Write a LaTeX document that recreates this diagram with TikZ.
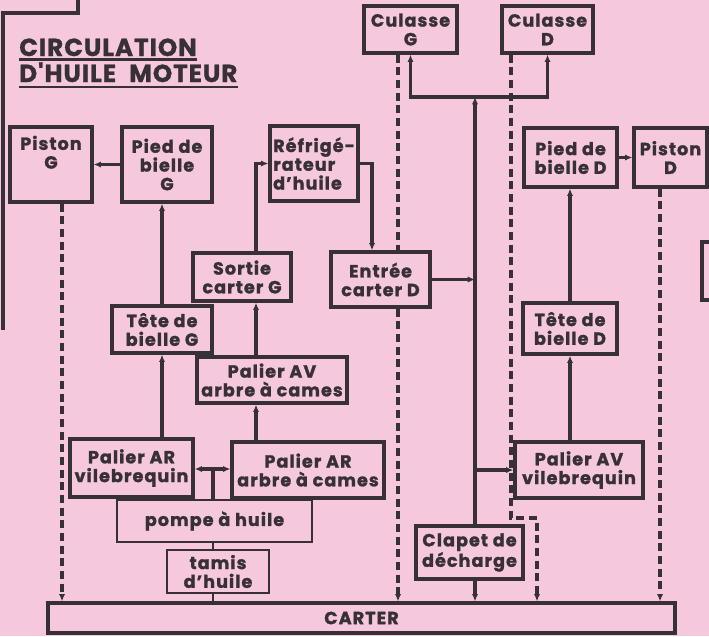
\documentclass[tikz,border=0pt]{standalone}
\usepackage{fontspec}
\setmainfont{Poppins}[LetterSpace=6, BoldFeatures={FakeBold=1.4}]
\newfontfamily\titlefont{Poppins}[LetterSpace=4, BoldFeatures={FakeBold=1}]
\usetikzlibrary{arrows.meta}

\definecolor{paper}{RGB}{246,200,222}
\definecolor{ink}{RGB}{55,48,55}

\begin{document}
\begin{tikzpicture}[
        x=0.3mm, y=-0.3mm,
        font=\bfseries\fontsize{15}{16}\selectfont,
        >=Latex,
        box/.style={draw=ink, text=ink, fill=paper, line width=2.8pt, align=center, inner sep=0.5pt},
        lite/.style={box, line width=1.3pt},
        link/.style={draw=ink, line width=2.8pt, -{Latex[length=2.2mm,width=1.9mm]}},
        ret/.style={link, dash pattern=on 2.4mm off 1.4mm},
        plain/.style={draw=ink, line width=2.8pt},
        uline/.style={draw=ink, line width=2pt},
        heading/.style={text=ink, inner sep=0pt, anchor=base west, font=\titlefont\bfseries\fontsize{21}{24}\selectfont}
    ]
        \fill[paper] (0,0) rectangle (709,636);
        \useasboundingbox (0,0) rectangle (709,636);

        % bits of the neighbouring boxes at the page edges
        \draw[plain] (78,0) |- (3,13) -- (3,330);
        \draw[plain] (730,242) -| (702,300) -- (730,300);

        % title
        \node[heading] (title1) at (19,56) {CIRCULATION};
        \node[heading] (title2) at (19,82) {D'HUILE\hspace{6pt} MOTEUR};
        \draw[uline] ([yshift=-1mm]title1.base west) -- ([yshift=-1mm]title1.base east);
        \draw[uline] ([yshift=-1.5mm]title2.base west) -- ([yshift=-1.5mm]title2.base east);

        % column positions of the lines
        \coordinate (camx) at (256,0);
        \coordinate (coolx) at (372,0);
        \coordinate (trunkx) at (475,0);
        \coordinate (trunktop) at (475,97);
        \coordinate (pumpj) at (213,469);
        \coordinate (retPG) at (62,0);
        \coordinate (retCG) at (398,0);
        \coordinate (retCD) at (511,0);
        \coordinate (retCDb) at (537,518);
        \coordinate (retPD) at (660,0);

        % boxes
        \node[box, minimum width=24.6mm, minimum height=22.5mm] (pistonG) at (51,164.5) {Piston\\G\\[0.6ex]};
        \node[box, minimum width=27mm, minimum height=22.5mm] (piedG) at (167,164.5) {Pied de\\bielle\\G};
        \node[box, minimum width=26.4mm, minimum height=22.5mm, align=left] (refrig) at (314,163.5) {Réfrigé-\\rateur\\d'huile};
        \node[box, minimum width=29.4mm, minimum height=14.4mm] (sortieG) at (242,277) {Sortie\\carter G};
        \node[box, minimum width=29.7mm, minimum height=16.5mm] (entreeD) at (380.5,279.5) {Entrée\\carter D};
        \node[box, minimum width=30mm, minimum height=14.1mm] (teteG) at (162,329.5) {Tête de\\bielle G};
        \node[box, minimum width=45mm, minimum height=13.8mm] (palAVac) at (272,380) {Palier AV\\arbre à cames};
        \node[box, minimum width=27.9mm, minimum height=14.1mm] (culG) at (410.5,29.5) {Culasse\\G};
        \node[box, minimum width=27.3mm, minimum height=14.1mm] (culD) at (547.5,29.5) {Culasse\\D};
        \node[box, minimum width=27.9mm, minimum height=17.7mm] (piedD) at (570.5,157.5) {Pied de\\bielle D};
        \node[box, minimum width=21.9mm, minimum height=17.7mm] (pistonD) at (670.5,157.5) {Piston\\D};
        \node[box, minimum width=28.2mm, minimum height=15.3mm] (teteD) at (570,328.5) {Tête de\\bielle D};
        \node[box, minimum width=38.4mm, minimum height=16.8mm] (palAVvil) at (579,470) {Palier AV\\vilebrequin};
        \node[box, minimum width=32.1mm, minimum height=15.9mm] (clapet) at (469.5,552.5) {Clapet de\\décharge};
        \node[box, minimum width=36.9mm, minimum height=17.4mm] (palARvil) at (131.5,468) {Palier AR\\vilebrequin};
        \node[box, minimum width=45.6mm, minimum height=16.8mm] (palARac) at (308,470) {Palier AR\\arbre à cames};
        \node[lite, minimum width=58.5mm, minimum height=12.6mm] (pompe) at (214.5,521) {pompe à huile};
        \node[lite, minimum width=30.6mm, minimum height=12.9mm] (tamis) at (218,571.5) {tamis\\d'huile};
        \node[box, minimum width=188.1mm, minimum height=9mm] (carter) at (361.5,618) {CARTER};

        % left side
        \draw[link] (piedG) -- (pistonG);
        \draw[link] (teteG.north) -- (teteG.north |- piedG.south);
        \draw[link] (teteG.south |- palARvil.north) -- (teteG.south);
        \draw[draw=ink, line width=1.2pt] (tamis.south -| pumpj) -- (carter.north -| pumpj);
        \draw[draw=ink, line width=1.2pt] (tamis.north -| pumpj) -- (pompe.south -| pumpj);
        \draw[plain] (pompe.north -| pumpj) -- (pumpj);
        \draw[link] (pumpj) -- (palARvil.east |- pumpj);
        \draw[link] (pumpj) -- (palARac.west |- pumpj);

        % cam shaft and cooler
        \draw[link] (palARac.north -| camx) -- (palAVac.south -| camx);
        \draw[link] (palAVac.north -| camx) -- (sortieG.south -| camx);
        \draw[link] (sortieG.north -| camx) |- (refrig.west);
        \draw[link] (refrig.east) -| (entreeD.north -| coolx);

        % main gallery
        \draw[link] (entreeD.east) -- (entreeD.east -| trunkx);
        \draw[link] (clapet.north -| trunkx) -- (trunktop);
        \draw[link] (trunktop) -| (culG.south);
        \draw[link] (trunktop) -| (culD.south);
        \draw[link] (trunkx |- palAVvil.west) -- (palAVvil.west);
        \draw[link] (clapet.south -| trunkx) -- (carter.north -| trunkx);

        % right side
        \draw[link] (teteD.south |- palAVvil.north) -- (teteD.south);
        \draw[link] (teteD.north) -- (teteD.north |- piedD.south);
        \draw[link] (piedD) -- (pistonD);

        % returns to the sump
        \draw[ret] (pistonG.south -| retPG) -- (carter.north -| retPG);
        \draw[ret, -] (culG.south -| retCG) -- (entreeD.north -| retCG);
        \draw[ret] (entreeD.south -| retCG) -- (carter.north -| retCG);
        \draw[ret] (culD.south -| retCD) |- (retCDb) -- (carter.north -| retCDb);
        \draw[ret] (pistonD.south -| retPD) -- (carter.north -| retPD);
    \end{tikzpicture}
\end{document}
